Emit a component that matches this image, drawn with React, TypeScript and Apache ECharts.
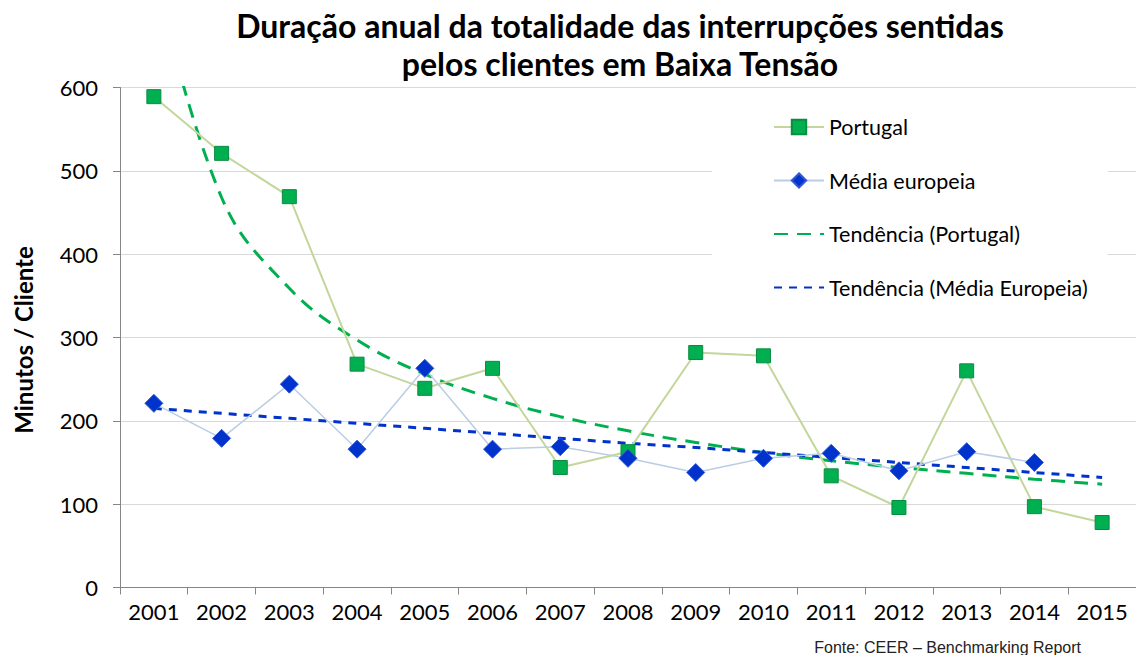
import React, { useEffect, useRef } from "react";
import * as echarts from "echarts";

const years = ["2001", "2002", "2003", "2004", "2005", "2006", "2007", "2008", "2009", "2010", "2011", "2012", "2013", "2014", "2015"];
const portugal = [589, 521, 469, 268, 239, 263, 144, 163, 282, 278, 134, 96, 260, 97, 78];
const mediaEuropeia = [221, 179, 244, 166, 263, 166, 169, 155, 138, 155, 161, 140, 163, 150];
const tendPortugal = [740, 468, 359, 297, 256, 227, 205, 188, 174, 162, 152, 144, 137, 130, 124];
const tendEuropeia = [215, 209, 203, 197, 191, 185, 179, 173, 168, 162, 156, 150, 144, 138, 132];
const yTicks = { min: 0, max: 600, interval: 100 };

const titleText = "Duração anual da totalidade das interrupções sentidas\npelos clientes em Baixa Tensão";
const yTitle = "Minutos / Cliente";
const sourceText = "Fonte: CEER – Benchmarking Report";

const FONT = "Lato, 'Noto Sans', sans-serif";

export default function App() {
  const ref = useRef<HTMLDivElement>(null);
  useEffect(() => {
    document.body.style.margin = "0";
    document.body.style.overflow = "hidden";
    const chart = echarts.init(ref.current!, undefined, { renderer: "svg" });
    chart.setOption({
      animation: false,
      backgroundColor: "#fff",
      grid: { left: 120, right: -12, top: 87.5, bottom: 67.5, containLabel: false },
      graphic: [
        {
          type: "text",
          x: 620,
          y: 6,
          z: 10,
          style: {
            text: titleText,
            fontSize: 32,
            fontWeight: "bold",
            fontFamily: FONT,
            align: "center",
            verticalAlign: "top",
            lineHeight: 38,
            fill: "#000",
          },
        },
        {
          type: "text",
          x: 23,
          y: 340,
          rotation: Math.PI / 2,
          z: 10,
          style: {
            text: yTitle,
            fontSize: 24,
            fontWeight: "bold",
            fontFamily: FONT,
            align: "center",
            verticalAlign: "middle",
            fill: "#000",
          },
        },
        {
          type: "text",
          x: 1081,
          y: 647,
          z: 10,
          style: {
            text: sourceText,
            fontSize: 16,
            fontFamily: "'Liberation Sans', Arial, sans-serif",
            align: "right",
            verticalAlign: "middle",
            fill: "#222",
          },
        },
      ],
      legend: {
        orient: "vertical",
        left: 712,
        top: 94,
        backgroundColor: "#fff",
        padding: [22, 20, 25, 61],
        itemWidth: 50,
        itemHeight: 18,
        itemGap: 31.5,
        textStyle: { fontSize: 21.5, fontFamily: FONT, color: "#000", lineHeight: 20 },
        data: [
          { name: "Portugal" },
          { name: "Média europeia" },
          { name: "Tendência (Portugal)", itemStyle: { opacity: 0 } },
          { name: "Tendência (Média Europeia)", itemStyle: { opacity: 0 } },
        ],
      },
      xAxis: {
        type: "category",
        data: years,
        boundaryGap: true,
        axisLine: { lineStyle: { color: "#868686", width: 1 } },
        axisTick: { show: true, length: 7, interval: 0, lineStyle: { color: "#868686" } },
        axisLabel: { fontSize: 22, fontFamily: FONT, color: "#000", margin: 13, interval: 0 },
        splitLine: { show: false },
      },
      yAxis: {
        type: "value",
        min: yTicks.min,
        max: yTicks.max,
        interval: yTicks.interval,
        axisLine: { show: true, lineStyle: { color: "#868686", width: 1 } },
        axisTick: { show: true, length: 7, lineStyle: { color: "#868686" } },
        axisLabel: { fontSize: 22, fontFamily: FONT, color: "#000", margin: 22 },
        splitLine: { lineStyle: { color: "#D9D9D9", width: 1 } },
      },
      series: [
        {
          name: "Portugal",
          type: "line",
          data: portugal,
          symbol: "rect",
          symbolSize: 14,
          z: 4,
          itemStyle: { color: "#00B050", borderColor: "#0A8C40", borderWidth: 1 },
          lineStyle: { color: "#C3D69B", width: 2 },
        },
        {
          name: "Média europeia",
          type: "line",
          data: mediaEuropeia,
          symbol: "diamond",
          symbolSize: 18,
          z: 4,
          itemStyle: { color: "#0033CC", borderColor: "#3358D4", borderWidth: 1 },
          lineStyle: { color: "#B9CDE5", width: 1.5 },
        },
        {
          name: "Tendência (Portugal)",
          type: "line",
          data: tendPortugal,
          smooth: 0.4,
          symbol: "none",
          z: 3,
          clip: true,
          itemStyle: { color: "#00B050" },
          lineStyle: { color: "#00B050", width: 3, type: [14, 9] },
        },
        {
          name: "Tendência (Média Europeia)",
          type: "line",
          data: tendEuropeia,
          symbol: "none",
          z: 3,
          clip: true,
          itemStyle: { color: "#0033CC" },
          lineStyle: { color: "#0033CC", width: 3, type: [8, 7] },
        },
      ],
    });
    return () => chart.dispose();
  }, []);
  return <div ref={ref} style={{ width: 1136, height: 655 }} />;
}
